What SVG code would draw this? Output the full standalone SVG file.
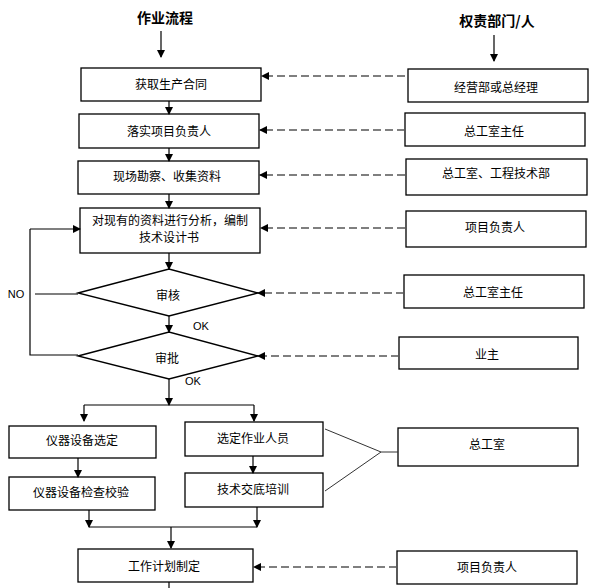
<svg xmlns="http://www.w3.org/2000/svg" width="595" height="588" viewBox="0 0 595 588">
<defs>
<marker id="ah" markerWidth="8" markerHeight="8" refX="7" refY="4" orient="auto" markerUnits="userSpaceOnUse"><path d="M0,0 L8,4 L0,8 Z" fill="#000"/></marker>
<style>
.box{fill:#fff;stroke:#000;stroke-width:1.3}
.t{font-family:"Noto Sans CJK SC","Liberation Sans",sans-serif;font-size:12px;fill:#000;text-anchor:middle;dominant-baseline:central}
.h{font-family:"Noto Sans CJK SC","Liberation Sans",sans-serif;font-size:14px;font-weight:bold;fill:#000;text-anchor:middle;dominant-baseline:central}
.lb{font-family:"Liberation Sans",Arial,sans-serif;font-size:11px;fill:#000;text-anchor:middle;dominant-baseline:central}
.ln{fill:none;stroke:#000;stroke-width:1.2}
.ar{fill:none;stroke:#000;stroke-width:1.2;marker-end:url(#ah)}
.da{fill:none;stroke:#555;stroke-width:1.5;stroke-dasharray:8 4;marker-end:url(#ah)}
.gl{fill:none;stroke:#333;stroke-width:1}
</style>
</defs>
<rect width="595" height="588" fill="#fff"/>
<g id="titles">
<text class="h" x="165" y="17">作业流程</text>
<text class="h" x="497" y="20">权责部门/人</text>
</g>
<g id="n1"><rect class="box" x="81" y="68" width="180" height="33"/><text class="t" x="171" y="83">获取生产合同</text></g>
<g id="n2"><rect class="box" x="79" y="114" width="180" height="34"/><text class="t" x="169" y="130">落实项目负责人</text></g>
<g id="n3"><rect class="box" x="78" y="161" width="181" height="33"/><text class="t" x="167" y="175">现场勘察、收集资料</text></g>
<g id="n4"><rect class="box" x="80" y="208" width="180" height="45"/><text class="t" x="170" y="219">对现有的资料进行分析，编制</text><text class="t" x="169" y="236">技术设计书</text></g>
<g id="d1"><polygon class="box" points="78,293 169,269 258,293 169,316"/><text class="t" x="168" y="294">审核</text></g>
<g id="d2"><polygon class="box" points="78,356 169,332 258,356 169,379"/><text class="t" x="167" y="357">审批</text></g>
<g id="l1"><rect class="box" x="9" y="426" width="147" height="32"/><text class="t" x="82" y="439">仪器设备选定</text></g>
<g id="l2"><rect class="box" x="9" y="477" width="146" height="33"/><text class="t" x="81" y="491">仪器设备检查校验</text></g>
<g id="m1"><rect class="box" x="185" y="422" width="138" height="34"/><text class="t" x="253" y="437">选定作业人员</text></g>
<g id="m2"><rect class="box" x="185" y="473" width="138" height="34"/><text class="t" x="253" y="488">技术交底培训</text></g>
<g id="n5"><rect class="box" x="78" y="549" width="175" height="33"/><text class="t" x="164" y="565">工作计划制定</text></g>
<g id="r1"><rect class="box" x="408" y="69" width="180" height="33"/><text class="t" x="496" y="86">经营部或总经理</text></g>
<g id="r2"><rect class="box" x="405" y="113" width="180" height="33"/><text class="t" x="494" y="130">总工室主任</text></g>
<g id="r3"><rect class="box" x="406" y="159" width="181" height="36"/><text class="t" x="496" y="172">总工室、工程技术部</text></g>
<g id="r4"><rect class="box" x="406" y="211" width="180" height="36"/><text class="t" x="495" y="226">项目负责人</text></g>
<g id="r5"><rect class="box" x="404" y="275" width="180" height="33"/><text class="t" x="493" y="291">总工室主任</text></g>
<g id="r6"><rect class="box" x="399" y="337" width="179" height="32"/><text class="t" x="487" y="353">业主</text></g>
<g id="r7"><rect class="box" x="398" y="428" width="180" height="38"/><text class="t" x="487" y="443">总工室</text></g>
<g id="r8"><rect class="box" x="397" y="551" width="180" height="33"/><text class="t" x="487" y="566">项目负责人</text></g>
<g id="labels">
<text class="lb" x="16" y="294">NO</text>
<text class="lb" x="201" y="326">OK</text>
<text class="lb" x="193" y="381">OK</text>
</g>
<g id="connectors">
<line class="ar" x1="161" y1="31" x2="161" y2="57"/>
<line class="ar" x1="494" y1="35" x2="494" y2="61"/>
<line class="ar" x1="169" y1="101" x2="169" y2="114"/>
<line class="ar" x1="169" y1="148" x2="169" y2="161"/>
<line class="ar" x1="169" y1="194" x2="169" y2="208"/>
<line class="ar" x1="169" y1="253" x2="169" y2="269"/>
<line class="ar" x1="169" y1="316" x2="169" y2="332"/>
<line class="ar" x1="169" y1="379" x2="169" y2="405"/>
<polyline class="ln" points="35,294 78,294"/>
<polyline class="ln" points="78,355 30,355 30,229"/>
<line class="ar" x1="30" y1="229" x2="80" y2="229"/>
<line class="ln" x1="84" y1="405" x2="254" y2="405"/>
<line class="ar" x1="84" y1="405" x2="84" y2="421"/>
<line class="ar" x1="254" y1="405" x2="254" y2="421"/>
<line class="ar" x1="78" y1="458" x2="78" y2="477"/>
<line class="ar" x1="253" y1="456" x2="253" y2="473"/>
<line class="ar" x1="89" y1="510" x2="89" y2="527"/>
<line class="ar" x1="257" y1="507" x2="257" y2="527"/>
<line class="ln" x1="89" y1="527" x2="257" y2="527"/>
<line class="ar" x1="171" y1="527" x2="171" y2="548"/>
<line class="ln" x1="169" y1="582" x2="169" y2="588"/>
<line class="da" x1="405" y1="76" x2="262" y2="76"/>
<line class="da" x1="405" y1="130" x2="260" y2="130"/>
<line class="da" x1="405" y1="175" x2="260" y2="175"/>
<line class="da" x1="405" y1="228" x2="261" y2="228"/>
<line class="da" x1="404" y1="293" x2="258" y2="293"/>
<line class="da" x1="399" y1="356" x2="258" y2="356"/>
<line class="da" x1="397" y1="567" x2="254" y2="567"/>
<polyline class="gl" points="325,429 381,452 325,491"/>
<line class="gl" x1="381" y1="452" x2="398" y2="452"/>
</g>
</svg>
